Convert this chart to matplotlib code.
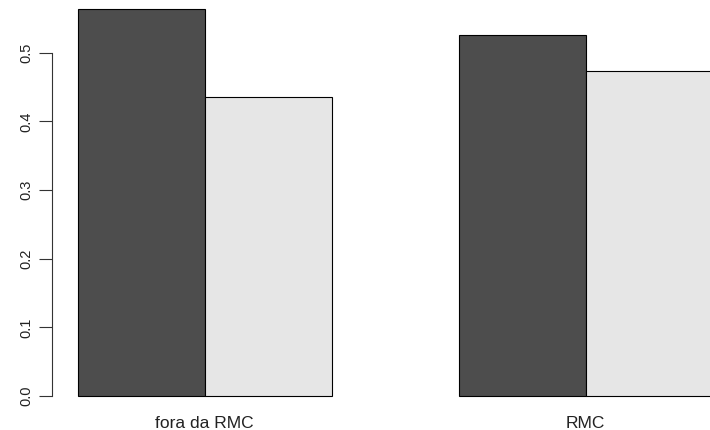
import matplotlib
matplotlib.use("Agg")
import matplotlib.pyplot as plt
import matplotlib.transforms as mtransforms
import numpy as np

plt.rcParams['font.family'] = ['Liberation Sans', 'DejaVu Sans']

# proportions per group (two series, drawn side by side)
groups = ["fora da RMC", "RMC"]
serie_a = [0.564, 0.526]
serie_b = [0.436, 0.474]
yticks = [0.0, 0.1, 0.2, 0.3, 0.4, 0.5]
colors = ["#4D4D4D", "#E6E6E6"]

W, H = 710, 430
fig = plt.figure(figsize=(W / 100, H / 100), dpi=100)

# R barplot(beside=TRUE) layout: bars at [1,2],[2,3] and [4,5],[5,6]
ymax = max(serie_a + serie_b)
ylim = (-0.04 * ymax, 1.04 * ymax)
xlim = (0.8, 6.2)
px_per_x = 127.0
px_per_y = 686.6
left_px, bottom_px = 52.3, 411.5
ax = fig.add_axes([left_px / W, (H - bottom_px) / H,
                   (xlim[1] - xlim[0]) * px_per_x / W,
                   (ylim[1] - ylim[0]) * px_per_y / H])

x0 = np.array([1.0, 4.0])
ax.bar(x0, serie_a, width=1.0, align='edge', color=colors[0],
       edgecolor='black', linewidth=0.8)
ax.bar(x0 + 1, serie_b, width=1.0, align='edge', color=colors[1],
       edgecolor='black', linewidth=0.8)

ax.set_xlim(*xlim)
ax.set_ylim(*ylim)

for s in ['top', 'right', 'bottom']:
    ax.spines[s].set_visible(False)
ax.spines['left'].set_bounds(0, 0.5)
ax.spines['left'].set_color('#333333')
ax.spines['left'].set_linewidth(0.8)

ax.set_yticks(yticks)
ax.set_yticklabels([f"{v:.1f}" for v in yticks], rotation=90, va='center',
                   fontsize=10.5, color='#222222')
ax.tick_params(axis='y', length=9.4, width=0.8, pad=4.0, color='#333333')
ax.set_xticks([])

# group labels under each pair of bars
trans = mtransforms.blended_transform_factory(ax.transData, fig.transFigure)
for i, g in enumerate(groups):
    ax.text(x0[i] + 1, (H - 428) / H, g, fontsize=12.5, ha='center',
            va='baseline', color='#222222', transform=trans)

fig.savefig("out.png", dpi=100)
